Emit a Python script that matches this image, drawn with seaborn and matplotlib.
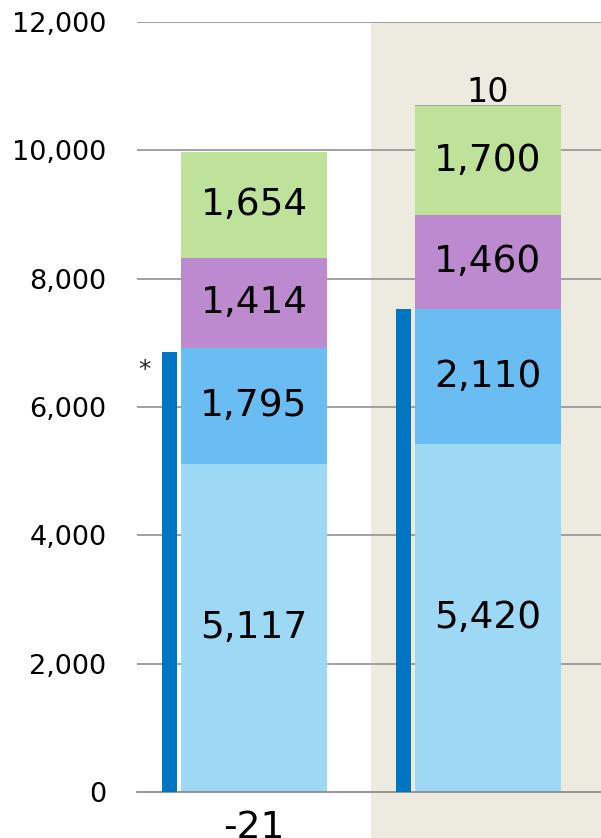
import matplotlib
matplotlib.use("Agg")
import matplotlib.pyplot as plt
import seaborn as sns
import pandas as pd
import numpy as np
from matplotlib.patches import Rectangle

# data
categories = ["-21", ""]
seg_base = [5117, 5420]
seg_second = [1795, 2110]
seg_third = [1414, 1460]
seg_fourth = [1654, 1700]
seg_top = [0, 10]
side_bar = [6850, 7520]
y_ticks = [0, 2000, 4000, 6000, 8000, 10000, 12000]

colors = ["#9dd9f5", "#6abdf2", "#bd8ad0", "#bfe29a", "#a6a6a6"]
side_color = "#0075c2"

sns.set_theme(style="white")
plt.rcParams["font.family"] = ["DejaVu Sans"]

fig = plt.figure(figsize=(6.01, 8.38), dpi=100)
ax = fig.add_axes([137 / 601, 1 - 792 / 838, (605 - 137) / 601, (792 - 22) / 838])

# shaded second period
ax.add_patch(Rectangle((0.5, -2000), 2, 14000, facecolor="#edeae0",
                       edgecolor="none", zorder=0, clip_on=False))

for t in y_ticks[1:]:
    ax.axhline(t, color="#9a9a9a", lw=1.3, zorder=1)

layers = [seg_base, seg_second, seg_third, seg_fourth, seg_top]
cum = np.cumsum(np.array(layers), axis=0)
df = pd.DataFrame({"cat": categories})
# draw cumulative totals back to front
for i in range(len(layers) - 1, -1, -1):
    df["v"] = cum[i]
    sns.barplot(data=df, x="cat", y="v", order=categories, color=colors[i],
                saturation=1, width=0.62, ax=ax, zorder=2, linewidth=0)

# thin side bars
pos = np.arange(len(categories))
ax.bar(pos - 0.361, side_bar, width=0.068, color=side_color, zorder=3, linewidth=0)

# segment labels
for j in range(len(categories)):
    for i in range(4):
        bottom = cum[i][j] - layers[i][j]
        ax.text(pos[j], bottom + layers[i][j] / 2, f"{layers[i][j]:,}",
                ha="center", va="center", fontsize=27, color="black", zorder=5)
    if seg_top[j]:
        ax.text(pos[j], cum[4][j] - 60, f"{seg_top[j]:,}", ha="center",
                va="bottom", fontsize=24, color="black", zorder=5)

ax.text(-0.47, 6580, "*", ha="center", va="center", fontsize=18, zorder=5)

ax.set_xlim(-0.5, 1.5)
ax.set_ylim(0, 12000)
ax.set_yticks(y_ticks)
ax.set_yticklabels([f"{t:,}" for t in y_ticks], fontsize=19.5, color="black")
ax.tick_params(axis="y", length=0, pad=22)
ax.set_xticks(pos)
ax.set_xticklabels(categories, fontsize=27, color="black")
ax.tick_params(axis="x", length=0, pad=13)
ax.set_xticks([-0.5, 0.5], minor=True)
ax.tick_params(axis="x", which="minor", direction="in", length=7, color="#8c8c8c", width=1.3)
ax.set_xlabel("")
ax.set_ylabel("")
for s in ["left", "right", "top"]:
    ax.spines[s].set_visible(False)
ax.spines["bottom"].set_color("#8c8c8c")
ax.spines["bottom"].set_linewidth(1.3)
ax.patch.set_alpha(0)

fig.savefig("out.png", dpi=100)
